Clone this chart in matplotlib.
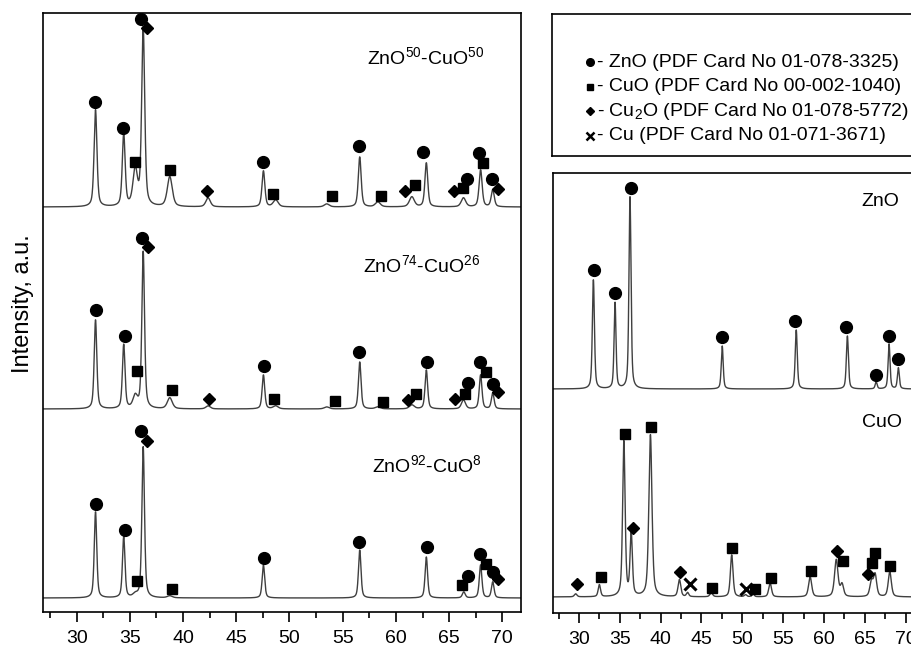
import numpy as np
import matplotlib.pyplot as plt
from matplotlib.ticker import MultipleLocator

plt.rcParams['font.family'] = ['Liberation Sans', 'DejaVu Sans']
plt.rcParams['mathtext.fontset'] = 'custom'
plt.rcParams['mathtext.rm'] = 'Liberation Sans'
plt.rcParams['mathtext.it'] = 'Liberation Sans:italic'
plt.rcParams['mathtext.bf'] = 'Liberation Sans:bold'

# --- peak lists (2theta, height, fwhm) ---
p50_pos = [31.77, 34.42, 35.5, 36.25, 38.75, 42.35, 47.55, 48.7, 53.5, 56.6, 58.3, 61.5, 62.86, 66.35, 67.96, 69.1]
p50_h = [97, 72, 36, 178, 30, 9, 36, 7, 3, 50, 5, 10, 44, 9, 37, 17]
p50_w = [0.32, 0.32, 0.5, 0.34, 0.55, 0.5, 0.32, 0.55, 0.55, 0.32, 0.55, 0.55, 0.32, 0.5, 0.34, 0.34]

p74_pos = [31.77, 34.42, 35.5, 36.25, 38.75, 42.35, 47.55, 48.7, 53.5, 56.6, 58.3, 61.5, 62.86, 66.35, 67.96, 69.1]
p74_h = [89, 64, 12, 157, 11, 3, 34, 3, 2, 47, 2, 4, 39, 9, 34, 16]
p74_w = [0.29, 0.29, 0.5, 0.3, 0.55, 0.5, 0.29, 0.55, 0.55, 0.29, 0.55, 0.55, 0.29, 0.45, 0.3, 0.3]

p92_pos = [31.77, 34.42, 35.5, 36.25, 38.75, 47.55, 56.6, 62.86, 66.38, 67.96, 69.1]
p92_h = [86, 61, 3, 151, 2, 33, 48, 41, 6, 33, 16]
p92_w = [0.28, 0.28, 0.5, 0.29, 0.55, 0.28, 0.28, 0.28, 0.32, 0.29, 0.29]

pzn_pos = [31.77, 34.42, 36.25, 47.54, 56.6, 62.86, 66.38, 67.96, 69.1]
pzn_h = [109, 86, 192, 43, 59, 53, 7, 45, 21]
pzn_w = [0.3, 0.28, 0.3, 0.28, 0.3, 0.3, 0.28, 0.28, 0.28]

pcu_pos = [29.6, 32.5, 35.5, 36.4, 38.75, 42.3, 43.3, 46.2, 48.7, 50.4, 51.3, 53.4, 58.3, 61.5, 62.2, 65.8, 66.25, 68.05]
pcu_h = [3, 12, 155, 62, 162, 17, 4, 4, 42, 2, 3, 14, 20, 37, 12, 15, 22, 25]
pcu_w = [0.38, 0.34, 0.36, 0.34, 0.45, 0.4, 0.34, 0.4, 0.38, 0.34, 0.34, 0.4, 0.45, 0.5, 0.45, 0.45, 0.45, 0.45]

# --- phase markers (phase, 2theta, height above baseline) ---
m50_phase = ['ZnO', 'ZnO', 'CuO', 'ZnO', 'Cu2O', 'CuO', 'Cu2O', 'ZnO', 'CuO', 'CuO', 'ZnO',
             'CuO', 'Cu2O', 'CuO', 'ZnO', 'Cu2O', 'CuO', 'ZnO', 'ZnO', 'CuO', 'ZnO', 'Cu2O']
m50_x = [31.71, 34.34, 35.46, 36.03, 36.59, 38.75, 42.23, 47.48, 48.42, 53.96, 56.5,
         58.57, 60.82, 61.76, 62.52, 65.43, 66.27, 66.64, 67.77, 68.15, 68.99, 69.55]
m50_h = [105, 79, 45, 188, 179, 37, 16, 45, 13, 11, 61, 11, 16, 22, 55, 16, 19, 28, 54, 44, 28, 18]

m74_phase = m50_phase
m74_x = [31.8, 34.53, 35.65, 36.12, 36.69, 38.94, 42.41, 47.58, 48.52, 54.25, 56.5,
         58.75, 61.1, 61.85, 62.88, 65.6, 66.45, 66.82, 67.95, 68.42, 69.17, 69.64]
m74_h = [99, 73, 38, 171, 162, 19, 10, 43, 10, 8, 57, 7, 9, 15, 47, 10, 15, 26, 47, 37, 25, 17]

m92_phase = ['ZnO', 'ZnO', 'CuO', 'ZnO', 'Cu2O', 'CuO', 'ZnO', 'ZnO', 'ZnO', 'CuO', 'ZnO',
             'ZnO', 'CuO', 'ZnO', 'Cu2O']
m92_x = [31.8, 34.53, 35.65, 36.03, 36.59, 38.94, 47.58, 56.5, 62.88, 66.17, 66.73,
         67.95, 68.42, 69.17, 69.55]
m92_h = [94, 68, 17, 167, 157, 9, 40, 56, 51, 13, 22, 44, 34, 26, 19]

mzn_x = [31.81, 34.41, 36.33, 47.54, 56.42, 62.74, 66.4, 67.9, 69.0]
mzn_h = [119, 96, 201, 52, 68, 62, 14, 53, 30]

mcu_phase = ['Cu2O', 'CuO', 'CuO', 'Cu2O', 'CuO', 'Cu2O', 'Cu', 'CuO', 'CuO', 'Cu', 'CuO',
             'CuO', 'CuO', 'Cu2O', 'CuO', 'Cu2O', 'CuO', 'CuO', 'CuO']
mcu_x = [29.73, 32.67, 35.64, 36.61, 38.78, 42.37, 43.58, 46.23, 48.76, 50.39, 51.49,
         53.53, 58.42, 61.6, 62.29, 65.39, 65.88, 66.28, 68.12]
mcu_h = [13, 20, 163, 69, 170, 25, 13, 9, 49, 8, 8, 19, 26, 46, 36, 23, 34, 44, 31]

legend_phase = ['ZnO', 'CuO', 'Cu2O', 'Cu']
legend_text = ['- ZnO (PDF Card No 01-078-3325)',
               '- CuO (PDF Card No 00-002-1040)',
               r'- Cu$_2$O (PDF Card No 01-078-5772)',
               '- Cu (PDF Card No 01-071-3671)']

two_theta = np.linspace(26.8, 72.0, 5000)


def profile(pos, height, width):
    y = np.zeros_like(two_theta)
    for p, h, w in zip(pos, height, width):
        d = (two_theta - p) / w
        y += h * (0.5 / (1 + 4 * d ** 2) + 0.5 * np.exp(-4 * np.log(2) * d ** 2))
    return y


MARK = {
    'ZnO': dict(marker='o', ms=8.5),
    'CuO': dict(marker='s', ms=7),
    'Cu2O': dict(marker='D', ms=6),
    'Cu': dict(marker='x', ms=8, mew=2.2),
}
LEG_MARK = {
    'ZnO': dict(marker='o', ms=5.5),
    'CuO': dict(marker='s', ms=5),
    'Cu2O': dict(marker='D', ms=4.5),
    'Cu': dict(marker='x', ms=6, mew=1.8),
}
line_kw = dict(color='#404040', lw=1.0)


def draw(ax, base, pos, h, w, phases, mx, mh):
    ax.plot(two_theta, base + profile(pos, h, w), **line_kw)
    for ph, x, y in zip(phases, mx, mh):
        ax.plot(x, base + y, linestyle='none', color='k', mec='k', **MARK[ph])


def style_axes(ax):
    ax.set_xlim(26.83, 71.75)
    ax.xaxis.set_major_locator(MultipleLocator(5))
    ax.xaxis.set_minor_locator(MultipleLocator(2.5))
    ax.tick_params(axis='x', which='major', direction='out', length=7, width=1.2,
                   labelsize=14, pad=6, top=False)
    ax.tick_params(axis='x', which='minor', direction='out', length=4, width=1.2, top=False)
    ax.tick_params(axis='y', left=False, right=False, labelleft=False)
    for s in ax.spines.values():
        s.set_linewidth(1.2)


fig = plt.figure(figsize=(9.12, 6.47), dpi=100)

# left panel: three composites
ax1 = fig.add_axes([0.0471, 0.0541, 0.5241, 0.9258])
draw(ax1, 405, p50_pos, p50_h, p50_w, m50_phase, m50_x, m50_h)
draw(ax1, 203, p74_pos, p74_h, p74_w, m74_phase, m74_x, m74_h)
draw(ax1, 14, p92_pos, p92_h, p92_w, m92_phase, m92_x, m92_h)
ax1.set_ylim(0, 599)
style_axes(ax1)
ax1.text(62.8, 555, r'ZnO$^{50}$-CuO$^{50}$', fontsize=14, ha='center', va='center')
ax1.text(62.4, 347, r'ZnO$^{74}$-CuO$^{26}$', fontsize=14, ha='center', va='center')
ax1.text(62.9, 147, r'ZnO$^{92}$-CuO$^{8}$', fontsize=14, ha='center', va='center')
fig.text(23 / 912, 1 - 304 / 647, 'Intensity, a.u.', rotation=90, fontsize=17,
         ha='center', va='center')

# right top: legend box
axl = fig.add_axes([0.6053, 0.7589, 0.4035, 0.2195])
axl.set_xticks([])
axl.set_yticks([])
for s in axl.spines.values():
    s.set_linewidth(1.2)
axl.set_xlim(0, 1)
axl.set_ylim(0, 1)
for i, (ph, txt) in enumerate(zip(legend_phase, legend_text)):
    yy = 0.66 - i * 0.172
    axl.plot(0.102, yy, linestyle='none', color='k', **LEG_MARK[ph])
    axl.text(0.122, yy, txt, fontsize=14, ha='left', va='center')

# right bottom: pure oxides
ax2 = fig.add_axes([0.6064, 0.0526, 0.4024, 0.6800])
ax2.plot(two_theta, 224 + profile(pzn_pos, pzn_h, pzn_w), **line_kw)
for x, y in zip(mzn_x, mzn_h):
    ax2.plot(x, 224 + y, linestyle='none', color='k', **MARK['ZnO'])
draw(ax2, 16, pcu_pos, pcu_h, pcu_w, mcu_phase, mcu_x, mcu_h)
ax2.set_ylim(0, 440)
style_axes(ax2)
ax2.text(66.9, 412, 'ZnO', fontsize=14, ha='center', va='center')
ax2.text(67.1, 190, 'CuO', fontsize=14, ha='center', va='center')

fig.savefig('out.png', dpi=100)
